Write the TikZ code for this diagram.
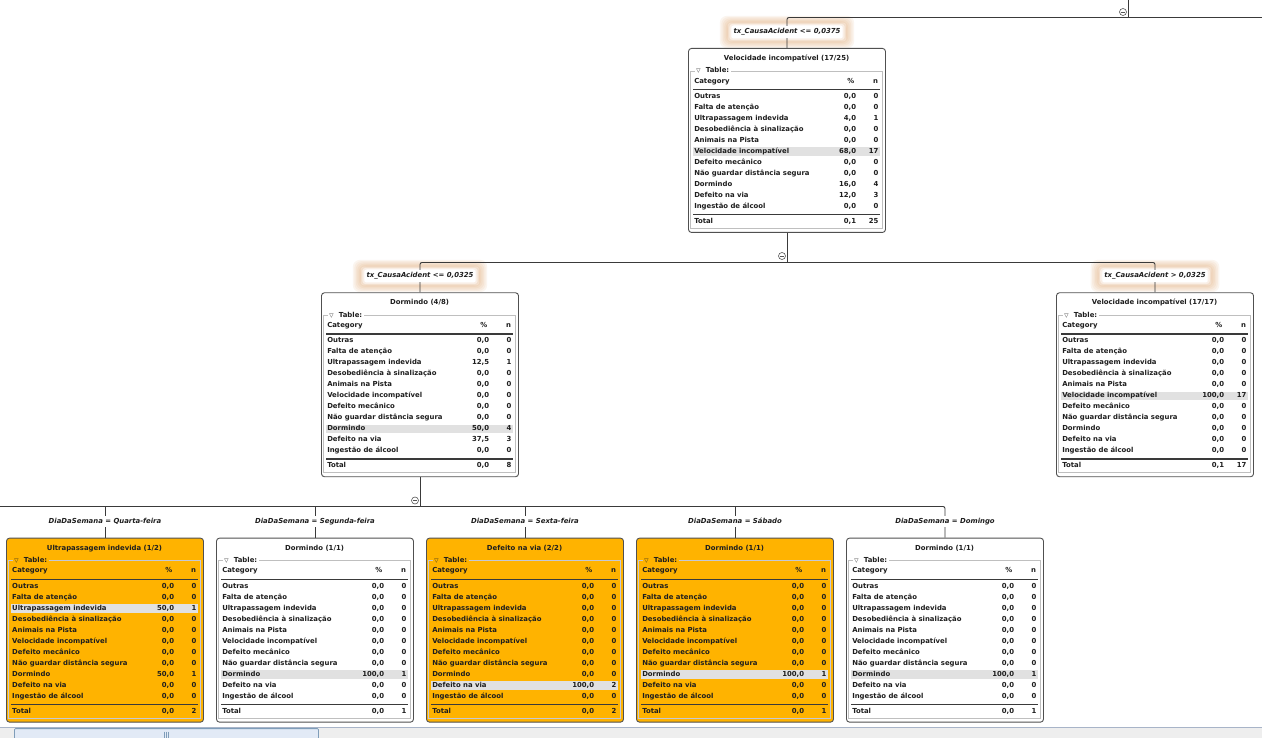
\documentclass[tikz,border=0pt]{standalone}
\usepackage{fontspec}
\setmainfont{DejaVu Sans}[BoldFont={DejaVu Sans Bold},ItalicFont={DejaVu Sans Oblique},BoldItalicFont={DejaVu Sans Bold Oblique}]
\usetikzlibrary{calc}
\pgfdeclarelayer{bglayer}
\pgfdeclarelayer{glowlayer}
\pgfdeclarelayer{edgelayer}
\pgfsetlayers{bglayer,glowlayer,edgelayer,main}

\definecolor{nodeorange}{HTML}{FFB300}
\definecolor{hlc}{HTML}{E1E1E1}
\definecolor{edgec}{HTML}{3A3A3A}
\definecolor{boxc}{HTML}{505050}
\definecolor{txtc}{HTML}{1E1E1E}
\definecolor{glowc}{HTML}{E0A068}
\definecolor{frameW}{HTML}{BFBFBF}
\definecolor{frameO}{HTML}{C4C8D6}
\definecolor{iconc}{HTML}{555555}
\definecolor{sbbg}{HTML}{EEEEEE}
\definecolor{sbline}{HTML}{A8B4C8}
\definecolor{thumbfill}{HTML}{E2EAF6}
\definecolor{thumbborder}{HTML}{7F9DB9}

\tikzset{
  txt/.style={font=\fontsize{6.9}{8}\selectfont\bfseries, text=txtc, inner sep=0pt, text height=5pt, text depth=1.4pt},
  nodebox/.style={draw=boxc, line width=0.9pt, rounded corners=3pt, minimum width=197pt, minimum height=184pt, inner sep=0pt, anchor=north},
  cond/.style={txt, font=\fontsize{6.9}{8}\selectfont\bfseries\itshape, fill=white, inner xsep=1.5pt, inner ysep=2.5pt},
  conn/.style={draw=edgec, line width=0.9pt, rounded corners=2pt},
  collapse/.style={circle, draw=iconc, line width=0.6pt, minimum size=7pt, inner sep=0pt, fill=white,
    path picture={\draw[iconc, line width=0.7pt] ([xshift=-1.6pt]path picture bounding box.center) -- ([xshift=1.6pt]path picture bounding box.center);}},
}

% #1 name, #2 cx, #3 top, #4 fill, #5 frame colour, #6 title, #7 highlighted row, #8 rows (12 items incl. total)
\newcommand\tabnode[8]{%
  \node[nodebox, fill=#4] (#1) at (#2,#3) {};
  \begin{scope}[shift={(#1.north west)}]
    \node[txt] (#1-title) at (98.5,10.6) {#6};
    \fill[hlc] (5.3,{48.6+11*(#7-1)-4.4}) rectangle (191.6,{48.6+11*(#7-1)+4.4});
    \draw[#5, line width=0.9pt] (2.6,23) rectangle (194.2,180.5);
    \node[txt, fill=#4, anchor=west, inner xsep=1.5pt] (#1-tab) at (6.5,23) {{\fontsize{5.5}{6}\selectfont ▽}\hspace{5.5pt}Table:};
    \node[txt, anchor=west] (#1-hc) at (6,33.4) {Category};
    \node[txt, anchor=east] (#1-hp) at (166.5,33.4) {\%};
    \node[txt, anchor=east] (#1-hn) at (190.3,33.4) {n};
    \draw[edgec, line width=1.2pt] (5.3,41.6) -- (191.6,41.6);
    \foreach \cat [count=\ri] in {Outras, Falta de atenção, Ultrapassagem indevida, Desobediência à sinalização, Animais na Pista, Velocidade incompatível, Defeito mecânico, Não guardar distância segura, Dormindo, Defeito na via, Ingestão de álcool, Total}{
      \pgfmathsetmacro\yy{\ri<12 ? 48.6+11*(\ri-1) : 173.6}
      \node[txt, anchor=west] (#1-c\ri) at (6,\yy) {\cat};
    }
    \foreach \pc/\nv [count=\ri] in {#8}{
      \pgfmathsetmacro\yy{\ri<12 ? 48.6+11*(\ri-1) : 173.6}
      \node[txt, anchor=east] (#1-p\ri) at (168.3,\yy) {\pc};
      \node[txt, anchor=east] (#1-n\ri) at (190.6,\yy) {\nv};
    }
    \draw[edgec, line width=1.2pt] (5.3,166.6) -- (191.6,166.6);
  \end{scope}
}

\begin{document}
\begin{tikzpicture}[x=1pt,y=-1pt]
\useasboundingbox (0,0) rectangle (1262,738);
\begin{pgfonlayer}{bglayer}
  \fill[white] (0,0) rectangle (1262,738);
\end{pgfonlayer}

% tables
\tabnode{T}{787}{48}{white}{frameW}{Velocidade incompatível (17/25)}{6}{0{,}0/0, 0{,}0/0, 4{,}0/1, 0{,}0/0, 0{,}0/0, 68{,}0/17, 0{,}0/0, 0{,}0/0, 16{,}0/4, 12{,}0/3, 0{,}0/0, 0{,}1/25}
\tabnode{M}{420}{292.3}{white}{frameW}{Dormindo (4/8)}{9}{0{,}0/0, 0{,}0/0, 12{,}5/1, 0{,}0/0, 0{,}0/0, 0{,}0/0, 0{,}0/0, 0{,}0/0, 50{,}0/4, 37{,}5/3, 0{,}0/0, 0{,}0/8}
\tabnode{R}{1155}{292.3}{white}{frameW}{Velocidade incompatível (17/17)}{6}{0{,}0/0, 0{,}0/0, 0{,}0/0, 0{,}0/0, 0{,}0/0, 100{,}0/17, 0{,}0/0, 0{,}0/0, 0{,}0/0, 0{,}0/0, 0{,}0/0, 0{,}1/17}
\tabnode{B1}{105}{537.7}{nodeorange}{frameO}{Ultrapassagem indevida (1/2)}{3}{0{,}0/0, 0{,}0/0, 50{,}0/1, 0{,}0/0, 0{,}0/0, 0{,}0/0, 0{,}0/0, 0{,}0/0, 50{,}0/1, 0{,}0/0, 0{,}0/0, 0{,}0/2}
\tabnode{B2}{315}{537.7}{white}{frameW}{Dormindo (1/1)}{9}{0{,}0/0, 0{,}0/0, 0{,}0/0, 0{,}0/0, 0{,}0/0, 0{,}0/0, 0{,}0/0, 0{,}0/0, 100{,}0/1, 0{,}0/0, 0{,}0/0, 0{,}0/1}
\tabnode{B3}{525}{537.7}{nodeorange}{frameO}{Defeito na via (2/2)}{10}{0{,}0/0, 0{,}0/0, 0{,}0/0, 0{,}0/0, 0{,}0/0, 0{,}0/0, 0{,}0/0, 0{,}0/0, 0{,}0/0, 100{,}0/2, 0{,}0/0, 0{,}0/2}
\tabnode{B4}{735}{537.7}{nodeorange}{frameO}{Dormindo (1/1)}{9}{0{,}0/0, 0{,}0/0, 0{,}0/0, 0{,}0/0, 0{,}0/0, 0{,}0/0, 0{,}0/0, 0{,}0/0, 100{,}0/1, 0{,}0/0, 0{,}0/0, 0{,}0/1}
\tabnode{B5}{945}{537.7}{white}{frameW}{Dormindo (1/1)}{9}{0{,}0/0, 0{,}0/0, 0{,}0/0, 0{,}0/0, 0{,}0/0, 0{,}0/0, 0{,}0/0, 0{,}0/0, 100{,}0/1, 0{,}0/0, 0{,}0/0, 0{,}0/1}

% condition labels
\node[cond] (lt) at (787,32) {tx\_CausaAcident <= 0,0375};
\node[cond] (l1) at (420,276) {tx\_CausaAcident <= 0,0325};
\node[cond] (r1) at (1155,276) {tx\_CausaAcident > 0,0325};
\node[cond] (d1) at (105,521.5) {DiaDaSemana = Quarta-feira};
\node[cond] (d2) at (315,521.5) {DiaDaSemana = Segunda-feira};
\node[cond] (d3) at (525,521.5) {DiaDaSemana = Sexta-feira};
\node[cond] (d4) at (735,521.5) {DiaDaSemana = Sábado};
\node[cond] (d5) at (945,521.5) {DiaDaSemana = Domingo};

% soft glow around split labels
\begin{pgfonlayer}{glowlayer}
  \foreach \l in {lt,l1,r1}{
    \foreach \p in {12,10.5,9,7.5,6,4.5}{
      \fill[glowc, opacity=0.1, rounded corners=7pt]
        ($(\l.south west)+(-\p,{0.85*\p})$) rectangle ($(\l.north east)+(\p,{-0.85*\p})$);
    }
    \foreach \p/\o in {4/0.3, 2.5/0.5, 1/0.7, 0/1}{
      \fill[white, opacity=\o, rounded corners=3pt]
        ($(\l.south west)+(-\p,{0.85*\p})$) rectangle ($(\l.north east)+(\p,{-0.85*\p})$);
    }
  }
\end{pgfonlayer}

% connector coordinates
\coordinate (top0) at (1128,0);
\coordinate (topJ) at (1128,17.5);
\coordinate (topR) at (1262,17.5);
\coordinate (busT) at (787,262.5);
\coordinate (busM) at (420,506.5);
\coordinate (busL) at (0,506.5);

\begin{pgfonlayer}{edgelayer}
  \draw[conn] (T.north) |- (topR);
  \draw[conn] (top0) -- (topJ);
  \draw[conn] (T.south) -- (busT);
  \draw[conn] (M.north) |- (busT) -| (R.north);
  \draw[conn] (M.south) -- (busM);
  \draw[conn] (busL) -| (B5.north);
  \foreach \b in {B1,B2,B3,B4}{ \draw[conn] (\b.north) -- (\b.north |- busL); }
\end{pgfonlayer}

% collapse icons
\node[collapse] (i1) at (1123,12) {};
\node[collapse] (i2) at (782,256) {};
\node[collapse] (i3) at (415,500.5) {};

% scrollbar
\fill[sbbg] (0,727) rectangle (1262,738);
\draw[sbline, line width=0.8pt] (0,727.4) -- (1262,727.4);
\draw[thumbborder, fill=thumbfill, line width=0.8pt, rounded corners=1pt] (14.5,728.6) rectangle (318.5,739);
\foreach \gx in {164.5,166.5,168.5}{ \draw[thumbborder, line width=0.6pt] (\gx,731.5) -- (\gx,737.5); }
\end{tikzpicture}
\end{document}
